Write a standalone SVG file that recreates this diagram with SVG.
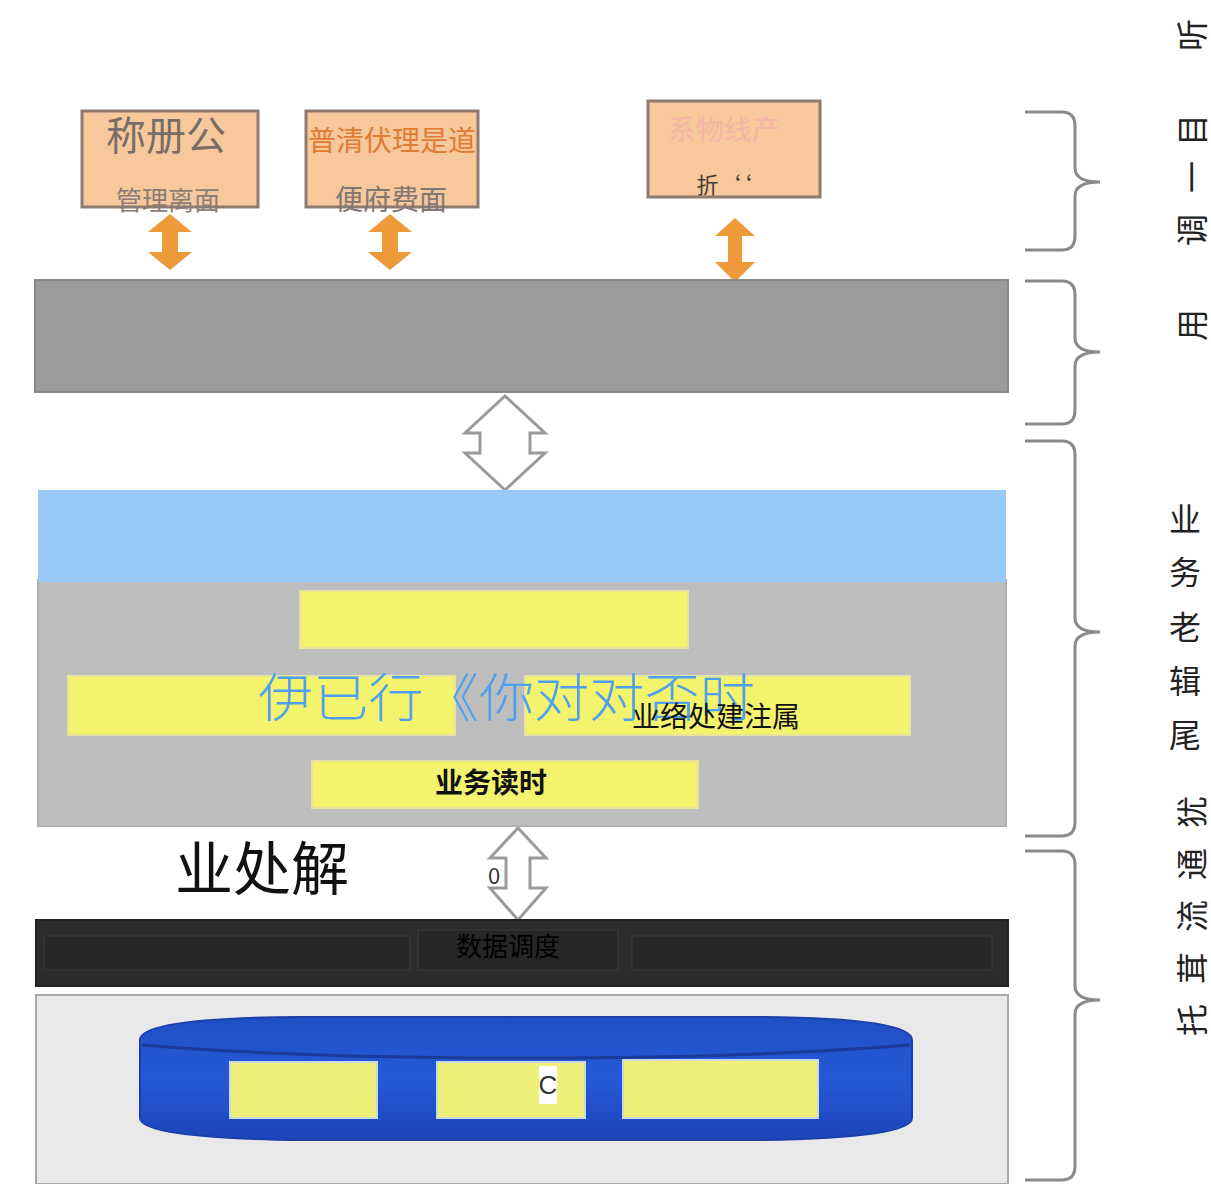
<svg xmlns="http://www.w3.org/2000/svg" width="1211" height="1184" viewBox="0 0 1211 1184">
<style>
.cjk{font-family:"Noto Sans CJK SC","Liberation Sans",sans-serif}
.brace{fill:none;stroke:#8a8a8a;stroke-width:3}
.side{font-family:"Noto Sans CJK SC",sans-serif;font-size:32px;fill:#222;text-anchor:middle;dominant-baseline:central}
.top{fill:#f7c89c;stroke:#8f7a70;stroke-width:3}
.oarrow{fill:#ef9a3a}
.conn{fill:#fff;stroke:#9a9a9a;stroke-width:3}
.yel{fill:#f4f36e;stroke:#e6e4a0;stroke-width:2}
.ybox{fill:#eef07a;stroke:#c9d9e0;stroke-width:2}
</style>
<defs>
<linearGradient id="cyl" x1="0" y1="0" x2="0" y2="1">
<stop offset="0" stop-color="#1f4fc4"/><stop offset="0.5" stop-color="#2659d8"/><stop offset="1" stop-color="#1c45b8"/>
</linearGradient>
</defs>
<rect width="1211" height="1184" fill="#fff"/>

<g id="client-admin">
<rect class="top" x="82" y="111" width="176" height="96"/>
<text class="cjk" x="166" y="150" font-size="40" fill="#7a6d66" text-anchor="middle">称册公</text>
<text class="cjk" x="168" y="210" font-size="26" fill="#8a7d76" text-anchor="middle">管理离面</text>
</g>
<g id="client-service">
<rect class="top" x="306" y="111" width="172" height="96"/>
<text class="cjk" x="392" y="151" font-size="28" fill="#e27b32" text-anchor="middle">普清伏理是道</text>
<text class="cjk" x="391" y="210" font-size="28" fill="#7f7772" text-anchor="middle">便府费面</text>
</g>
<g id="client-system">
<rect class="top" x="648" y="101" width="172" height="96"/>
<text class="cjk" x="724" y="140" font-size="28" fill="#f6b4a8" text-anchor="middle">系物线产</text>
<text class="cjk" x="724" y="193" font-size="22" fill="#4a3c34" text-anchor="middle">折‘‘</text>
</g>

<g id="connectors">
<polygon class="oarrow" points="170,214 192,232 178,232 178,252 192,252 170,270 148,252 162,252 162,232 148,232"/>
<polygon class="oarrow" points="390,214 412,232 398,232 398,252 412,252 390,270 368,252 382,252 382,232 368,232"/>
<polygon class="oarrow" points="735,218 755,236 742,236 742,262 755,262 735,282 715,262 728,262 728,236 715,236"/>
<polygon class="conn" points="505,396 545,433 530,433 530,453 545,453 505,490 465,453 480,453 480,433 465,433"/>
<polygon class="conn" points="518,828 546,858 530,858 530,888 546,888 518,920 490,888 506,888 506,858 490,858"/>
</g>

<g id="gateway">
<rect x="35" y="280" width="973" height="112" fill="#9b9b9b" stroke="#8a8a8a" stroke-width="2"/>
</g>
<text class="cjk" x="505" y="446" font-size="22" fill="#fff" text-anchor="middle">0 质</text>

<g id="business">
<rect x="38" y="580" width="968" height="246" fill="#bebebe" stroke="#b0b0b0" stroke-width="2"/>
<rect x="38" y="490" width="968" height="92" fill="#99c9f6"/>
<rect class="yel" x="300" y="591" width="388" height="57"/>
<rect class="yel" x="68" y="676" width="387" height="59"/>
<rect class="yel" x="525" y="676" width="385" height="59"/>
<rect class="yel" x="312" y="761" width="386" height="47"/>
<text class="cjk" x="258" y="717" font-size="52" font-weight="300" fill="#4ea0ef" textLength="497" lengthAdjust="spacingAndGlyphs">伊已行《你对对否时</text>
<text class="cjk" x="716" y="727" font-size="28" fill="#111" text-anchor="middle">业络处建注属</text>
<text class="cjk" x="491" y="793" font-size="28" font-weight="bold" fill="#111" text-anchor="middle">业务读时</text>
</g>

<text class="cjk" x="262" y="890" font-size="58" fill="#111" text-anchor="middle">业处解</text>
<text class="cjk" x="494" y="884" font-size="22" fill="#333" text-anchor="middle">0</text>

<g id="dispatch">
<rect x="36" y="920" width="972" height="66" fill="#2b2b2b" stroke="#222" stroke-width="2"/>
<rect x="44" y="936" width="366" height="34" fill="#272727" stroke="#3a3a3a" stroke-width="1"/>
<rect x="632" y="936" width="360" height="34" fill="#272727" stroke="#3a3a3a" stroke-width="1"/>
<rect x="418" y="930" width="200" height="40" fill="#262626" stroke="#3a3a3a" stroke-width="1"/>
<text class="cjk" x="508" y="956" font-size="26" fill="#000" text-anchor="middle">数据调度</text>
</g>

<g id="storage">
<rect x="36" y="995" width="972" height="189" fill="#e9e9e9" stroke="#a8a8a8" stroke-width="2"/>
<path d="M140,1040 Q140,1018 300,1017 L760,1017 Q912,1018 912,1040 L912,1118 Q912,1138 760,1140 L300,1140 Q140,1138 140,1118 Z" fill="url(#cyl)" stroke="#1a3fa8" stroke-width="2"/>
<path d="M142,1045 Q300,1058 525,1058 Q750,1058 910,1045" fill="none" stroke="#1a3b9c" stroke-width="3"/>
<rect class="ybox" x="230" y="1062" width="147" height="56"/>
<rect class="ybox" x="437" y="1062" width="148" height="56"/>
<rect class="ybox" x="623" y="1060" width="195" height="58" fill="#cfe8b0"/>
<rect x="539" y="1066" width="18" height="38" fill="#fff"/>
<text x="548" y="1094" font-family="Liberation Sans,sans-serif" font-size="26" fill="#333" text-anchor="middle">C</text>
</g>

<g id="braces">
<path class="brace" d="M1025,112 L1062,112 Q1075,112 1075,126 L1075,168 Q1075,182 1100,182 Q1075,182 1075,196 L1075,236 Q1075,250 1062,250 L1025,250"/>
<path class="brace" d="M1025,281 L1062,281 Q1075,281 1075,295 L1075,338 Q1075,352 1100,352 Q1075,352 1075,366 L1075,410 Q1075,424 1062,424 L1025,424"/>
<path class="brace" d="M1025,441 L1062,441 Q1075,441 1075,455 L1075,618 Q1075,632 1100,632 Q1075,632 1075,646 L1075,822 Q1075,836 1062,836 L1025,836"/>
<path class="brace" d="M1025,851 L1062,851 Q1075,851 1075,865 L1075,986 Q1075,1000 1100,1000 Q1075,1000 1075,1014 L1075,1166 Q1075,1180 1062,1180 L1025,1180"/>
</g>

<g id="side-labels">
<text class="side" x="1190" y="35" transform="rotate(-90 1190 35)">听</text>
<text class="side" x="1190" y="130" transform="rotate(-90 1190 130)">目</text>
<text class="side" x="1190" y="177" transform="rotate(-90 1190 177)">一</text>
<text class="side" x="1190" y="230" transform="rotate(-90 1190 230)">调</text>
<text class="side" x="1190" y="325" transform="rotate(-90 1190 325)">用</text>
<text class="side" x="1185" y="517">业</text>
<text class="side" x="1185" y="570">务</text>
<text class="side" x="1185" y="625">老</text>
<text class="side" x="1185" y="679">辑</text>
<text class="side" x="1185" y="733">尾</text>
<text class="side" x="1190" y="812" transform="rotate(-90 1190 812)">犹</text>
<text class="side" x="1190" y="864" transform="rotate(-90 1190 864)">通</text>
<text class="side" x="1190" y="916" transform="rotate(-90 1190 916)">流</text>
<text class="side" x="1190" y="968" transform="rotate(-90 1190 968)">茸</text>
<text class="side" x="1190" y="1020" transform="rotate(-90 1190 1020)">托</text>
</g>
</svg>
